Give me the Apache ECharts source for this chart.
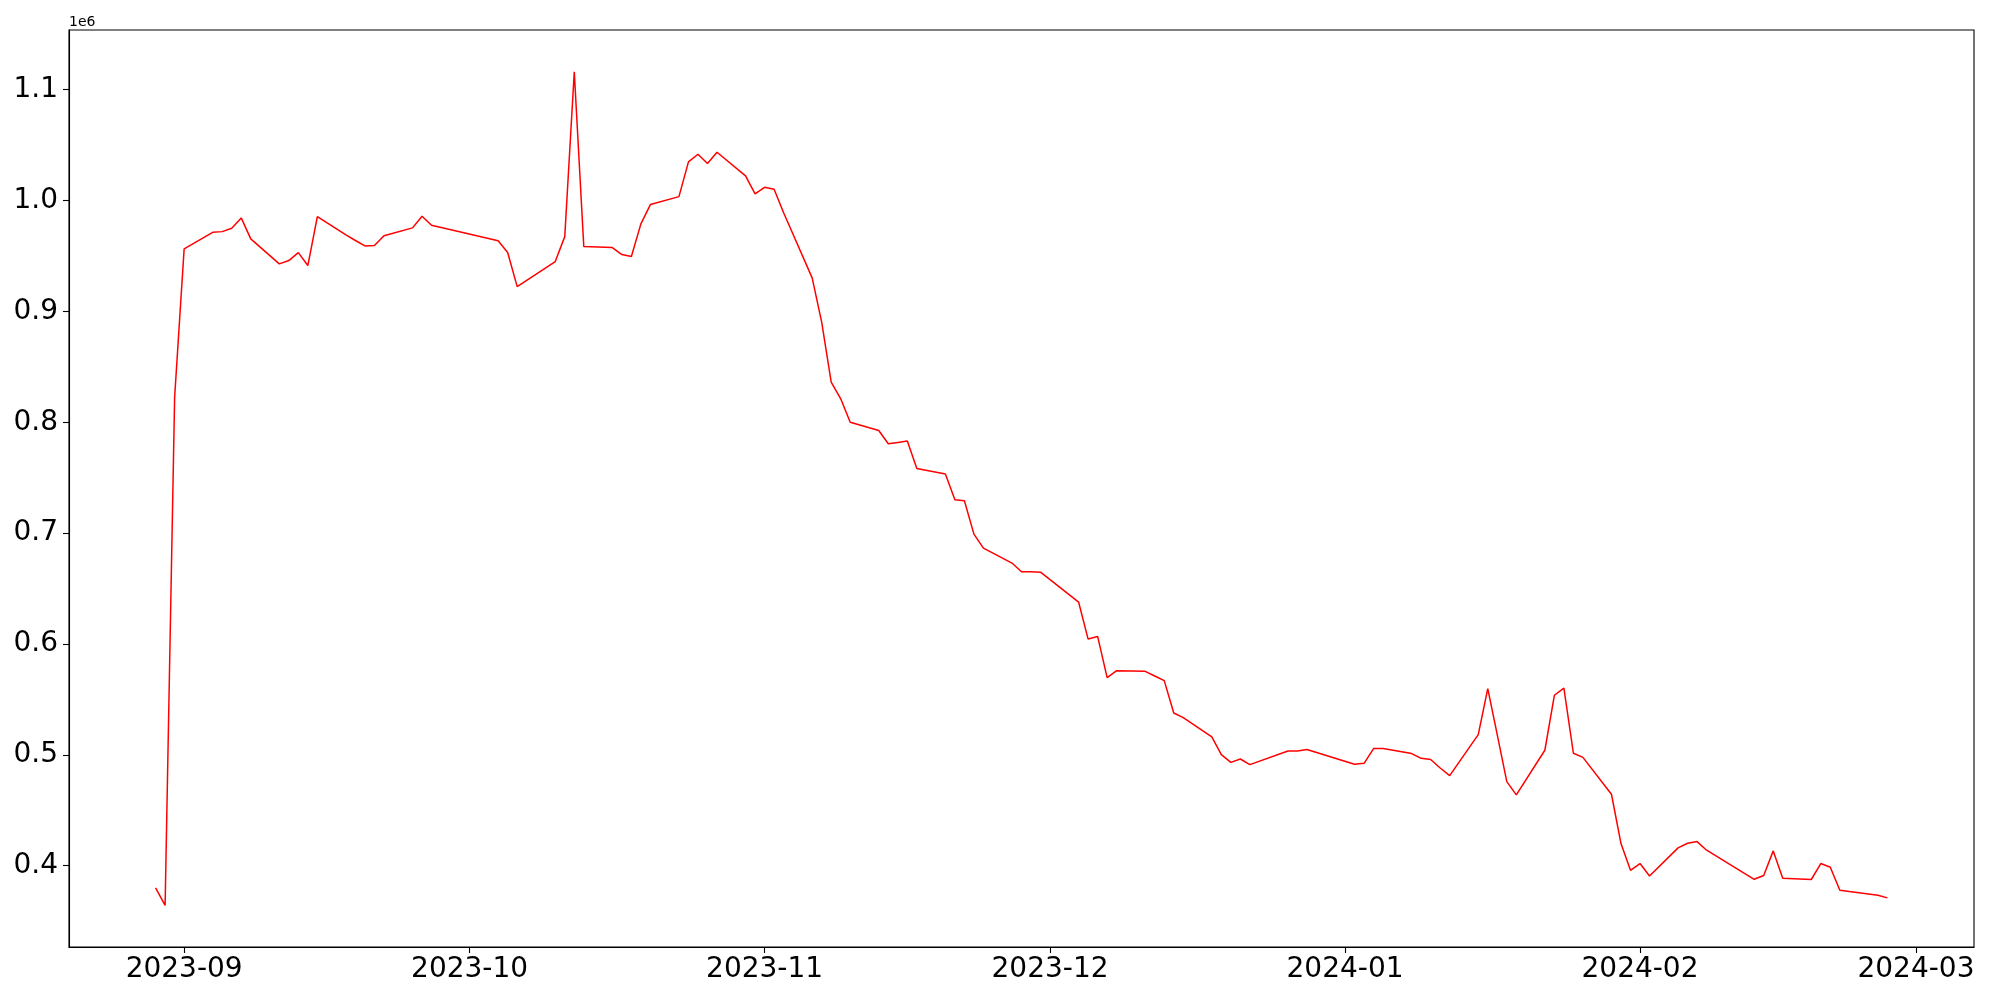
<!DOCTYPE html>
<html>
<head>
<meta charset="utf-8">
<script src="https://cdn.jsdelivr.net/npm/echarts@6/dist/echarts.min.js"></script>
<style>html,body{margin:0;padding:0;background:#fff}#chart{width:2000px;height:1000px}</style>
</head>
<body>
<div id="chart"></div>
<script>
const dates = [
'2023-08-29','2023-08-30','2023-08-31','2023-09-01',
'2023-09-04','2023-09-05','2023-09-06','2023-09-07','2023-09-08',
'2023-09-11','2023-09-12','2023-09-13','2023-09-14','2023-09-15',
'2023-09-18','2023-09-19','2023-09-20','2023-09-21','2023-09-22',
'2023-09-25','2023-09-26','2023-09-27',
'2023-10-04','2023-10-05','2023-10-06',
'2023-10-10','2023-10-11','2023-10-12','2023-10-13',
'2023-10-16','2023-10-17','2023-10-18','2023-10-19','2023-10-20',
'2023-10-23','2023-10-24','2023-10-25','2023-10-26','2023-10-27',
'2023-10-30','2023-10-31','2023-11-01','2023-11-02','2023-11-03',
'2023-11-06','2023-11-07','2023-11-08','2023-11-09','2023-11-10',
'2023-11-13','2023-11-14','2023-11-15','2023-11-16','2023-11-17',
'2023-11-20','2023-11-21','2023-11-22','2023-11-23','2023-11-24',
'2023-11-27','2023-11-28','2023-11-29','2023-11-30','2023-12-01',
'2023-12-04','2023-12-05','2023-12-06','2023-12-07','2023-12-08',
'2023-12-11','2023-12-12','2023-12-13','2023-12-14','2023-12-15',
'2023-12-18','2023-12-19','2023-12-20','2023-12-21','2023-12-22',
'2023-12-26','2023-12-27','2023-12-28',
'2024-01-02','2024-01-03','2024-01-04','2024-01-05',
'2024-01-08','2024-01-09','2024-01-10','2024-01-11','2024-01-12',
'2024-01-15','2024-01-16','2024-01-17','2024-01-18','2024-01-19',
'2024-01-22','2024-01-23','2024-01-24','2024-01-25','2024-01-26',
'2024-01-29','2024-01-30','2024-01-31','2024-02-01','2024-02-02',
'2024-02-05','2024-02-06','2024-02-07','2024-02-08',
'2024-02-13','2024-02-14','2024-02-15','2024-02-16',
'2024-02-19','2024-02-20','2024-02-21','2024-02-22','2024-02-23',
'2024-02-26','2024-02-27'
];
const values = [
380000,364200,822600,956400,
971400,972000,975000,984400,965500,
942900,945900,953100,941400,985600,
969100,964000,959100,959400,968200,
975400,985900,977700,
963700,953100,922400,
945000,967500,1116300,958500,
957600,951300,949500,979000,996400,
1003600,1034900,1041800,1033400,1043600,
1022300,1006000,1012000,1010200,989000,
930300,890300,836200,821200,800100,
792600,780600,781800,783000,758300,
753300,730200,729200,699100,686500,
673000,665200,665200,664800,658000,
637800,604400,606800,569600,575900,
575300,571100,566900,537700,533500,
516100,500200,493200,496200,491100,
503400,503400,504700,
491400,492300,505600,505600,
501100,496800,495700,488100,481200,
518200,559700,517900,475800,463800,
504100,553700,560200,501400,497700,
464400,419900,395800,401900,390700,
416000,420200,421700,413900,
387700,391100,413300,388600,
387500,401900,398600,377800,376600,
373300,370900
];
const xTickLabels = ['2023-09','2023-10','2023-11','2023-12','2024-01','2024-02','2024-03'];
const yTickValues = [400000,500000,600000,700000,800000,900000,1000000,1100000];

function parseDate(s){const p=s.split('-').map(Number);return Date.UTC(p[0],p[1]-1,p[2]||1);}
const ts = dates.map(parseDate);
const xTickTs = xTickLabels.map(parseDate);
const data = ts.map((t,i)=>[t,values[i]]);

const tMin = Math.min(...ts), tMax = Math.max(...ts), tR = tMax - tMin;
const vMin = Math.min(...values), vMax = Math.max(...values), vR = vMax - vMin;
const font = 'DejaVu Sans';

const chart = echarts.init(document.getElementById('chart'), null, {renderer:'canvas'});
chart.setOption({
  animation:false,
  backgroundColor:'#fff',
  grid:{left:69,right:26,top:30,bottom:53,show:true,borderColor:'#000',borderWidth:1.1,containLabel:false},
  xAxis:{
    type:'value', min:tMin-0.05*tR, max:tMax+0.05*tR,
    axisLine:{show:true,lineStyle:{color:'#000',width:1.1}},
    axisTick:{show:true,inside:false,length:6,lineStyle:{color:'#000',width:1.1},customValues:xTickTs},
    axisLabel:{show:true,customValues:xTickTs,fontSize:28,fontFamily:font,color:'#000',margin:9,hideOverlap:false,
      formatter:function(v){const d=new Date(v);return d.getUTCFullYear()+'-'+String(d.getUTCMonth()+1).padStart(2,'0');}},
    splitLine:{show:false},minorTick:{show:false}
  },
  yAxis:{
    type:'value', min:vMin-0.05*vR, max:vMax+0.05*vR, scale:true,
    axisLine:{show:true,lineStyle:{color:'#000',width:1.1}},
    axisTick:{show:true,inside:false,length:6,lineStyle:{color:'#000',width:1.1},customValues:yTickValues},
    axisLabel:{show:true,customValues:yTickValues,fontSize:28,fontFamily:font,color:'#000',margin:11,
      formatter:function(v){return (v/1e6).toFixed(1);}},
    splitLine:{show:false}
  },
  graphic:[{type:'text',left:69,top:15,style:{text:'1e6',font:'14px "DejaVu Sans"',fill:'#000'}}],
  series:[{type:'line',data:data,showSymbol:false,symbol:'none',lineStyle:{color:'#ff0000',width:1.5},itemStyle:{color:'#ff0000'}}]
});
</script>
</body>
</html>
